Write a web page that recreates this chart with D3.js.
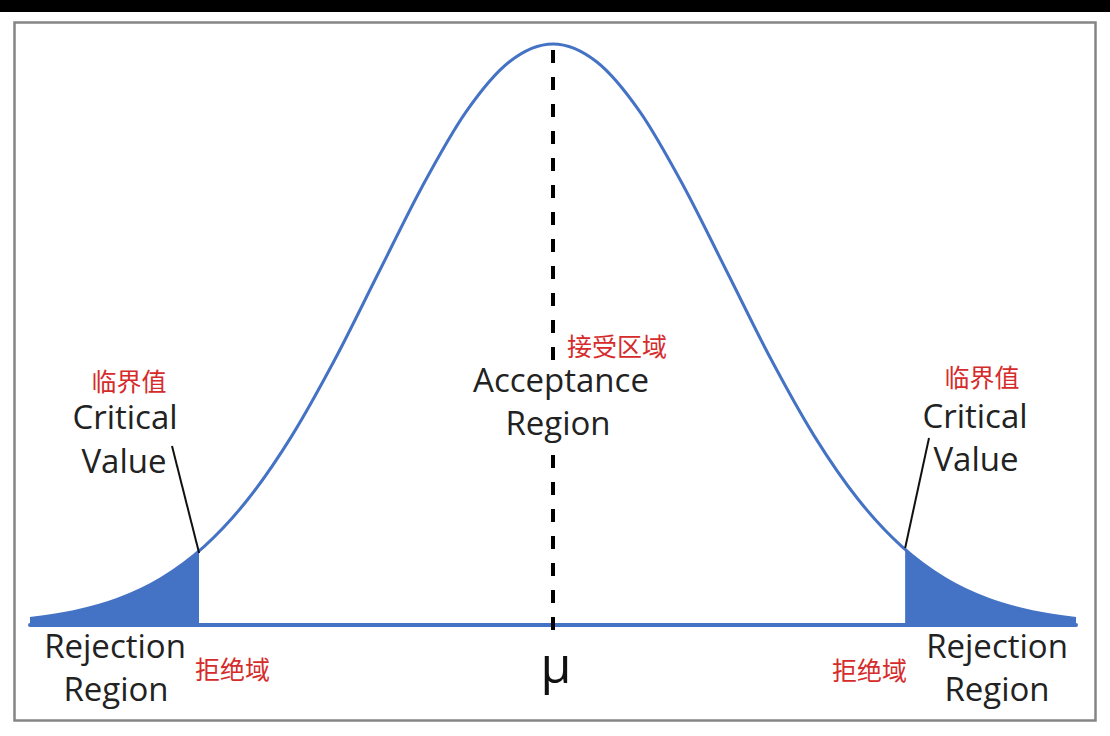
<!DOCTYPE html>
<html>
<head>
<meta charset="utf-8">
<script src="https://cdn.jsdelivr.net/npm/d3@7/dist/d3.min.js"></script>
<style>
  html, body { margin: 0; padding: 0; background: #fff; }
  svg { display: block; }
</style>
</head>
<body>
<svg id="chart" width="1110" height="736"></svg>
<script>
// ---- data ----
const zValues = [-3.0, -2.75, -2.5, -2.25, -2.0, -1.75, -1.5, -1.25, -1.0, -0.75, -0.5, -0.25, 0,
                 0.25, 0.5, 0.75, 1.0, 1.25, 1.5, 1.75, 2.0, 2.25, 2.5, 2.75, 3.0];
const densityValues = [0.0044, 0.0091, 0.0175, 0.0317, 0.0540, 0.0863, 0.1295, 0.1826, 0.2420, 0.3011, 0.3521, 0.3867, 0.3989,
                       0.3867, 0.3521, 0.3011, 0.2420, 0.1826, 0.1295, 0.0863, 0.0540, 0.0317, 0.0175, 0.0091, 0.0044];
const criticalZ = [-2.03, 2.02];
const meanLabel = "μ";
const acceptanceLabel = ["Acceptance", "Region"];
const acceptanceCn = "接受区域";
const criticalLabel = ["Critical", "Value"];
const criticalCn = "临界值";
const rejectionLabel = ["Rejection", "Region"];
const rejectionCn = "拒绝域";

// ---- layout ----
const W = 1110, H = 736;
const svg = d3.select("#chart");
const blue = "#4472c4";
const red = "#d62b2b";
const ink = "#222";
const enFont = "'Open Sans', 'Noto Sans', sans-serif";
const cnFont = "'Noto Sans CJK SC', sans-serif";
const enSize = 33;

svg.append("rect").attr("x", 0).attr("y", 0).attr("width", W).attr("height", H).attr("fill", "#fff");
svg.append("rect").attr("x", 0).attr("y", 0).attr("width", W).attr("height", 12).attr("fill", "#000");
svg.append("rect").attr("x", 14.5).attr("y", 22.5).attr("width", 1081).attr("height", 698)
  .attr("fill", "#fff").attr("stroke", "#858585").attr("stroke-width", 2.5);

const x = d3.scaleLinear().domain([-3, 3]).range([30, 1076]);
const y = d3.scaleLinear().domain([0, 0.3989]).range([625, 44]);

const pts = zValues.map((z, i) => ({ z, d: densityValues[i] }));

// tails (clipped areas)
const defs = svg.append("defs");
defs.append("clipPath").attr("id", "clipL").append("rect")
  .attr("x", 0).attr("y", 0).attr("width", x(criticalZ[0])).attr("height", H);
defs.append("clipPath").attr("id", "clipR").append("rect")
  .attr("x", x(criticalZ[1])).attr("y", 0).attr("width", W - x(criticalZ[1])).attr("height", H);

const area = d3.area().x(p => x(p.z)).y0(y(0)).y1(p => y(p.d)).curve(d3.curveMonotoneX);
const line = d3.line().x(p => x(p.z)).y(p => y(p.d)).curve(d3.curveMonotoneX);

["clipL", "clipR"].forEach(id => {
  svg.append("path").datum(pts).attr("d", area).attr("fill", blue).attr("clip-path", `url(#${id})`);
});

// baseline
svg.append("line").attr("x1", x(-3)).attr("x2", x(3)).attr("y1", y(0)).attr("y2", y(0))
  .attr("stroke", blue).attr("stroke-width", 4).attr("stroke-linecap", "round");

// curve
svg.append("path").datum(pts).attr("d", line).attr("fill", "none")
  .attr("stroke", blue).attr("stroke-width", 3);

// mean dashed line
svg.append("line").attr("x1", x(0)).attr("x2", x(0)).attr("y1", 50).attr("y2", 640)
  .attr("stroke", "#000").attr("stroke-width", 4).attr("stroke-dasharray", "13,14");

// white box behind acceptance text
svg.append("rect").attr("x", 465).attr("y", 362).attr("width", 190).attr("height", 88).attr("fill", "#fff");

function txt(str, xx, yy, opts) {
  return svg.append("text").attr("x", xx).attr("y", yy)
    .attr("text-anchor", opts.anchor || "middle")
    .attr("font-family", opts.family || enFont)
    .attr("font-size", opts.size || enSize)
    .attr("fill", opts.fill || ink)
    .attr("dominant-baseline", opts.baseline || "alphabetic")
    .text(str);
}

// acceptance
txt(acceptanceCn, 567, 345, { anchor: "start", family: cnFont, size: 25, fill: red, baseline: "central" });
txt(acceptanceLabel[0], 561, 392, {});
txt(acceptanceLabel[1], 558, 435, {});

// critical left
txt(criticalCn, 129, 380, { family: cnFont, size: 25, fill: red, baseline: "central" });
txt(criticalLabel[0], 125, 429, {});
txt(criticalLabel[1], 124, 473, {});
// critical right
txt(criticalCn, 982, 376, { family: cnFont, size: 25, fill: red, baseline: "central" });
txt(criticalLabel[0], 975, 428, {});
txt(criticalLabel[1], 976, 471, {});

// leader lines
svg.append("line").attr("x1", 172).attr("y1", 446).attr("x2", x(criticalZ[0])).attr("y2", 553)
  .attr("stroke", "#111").attr("stroke-width", 2);
svg.append("line").attr("x1", 929).attr("y1", 438).attr("x2", x(criticalZ[1])).attr("y2", 548)
  .attr("stroke", "#111").attr("stroke-width", 2);

// rejection left
txt(rejectionLabel[0], 115, 658, {});
txt(rejectionLabel[1], 116, 701, {});
txt(rejectionCn, 195, 668, { anchor: "start", family: cnFont, size: 25, fill: red, baseline: "central" });
// rejection right
txt(rejectionLabel[0], 997, 658, {});
txt(rejectionLabel[1], 997, 701, {});
txt(rejectionCn, 832, 669, { anchor: "start", family: cnFont, size: 25, fill: red, baseline: "central" });

// mu
txt(meanLabel, x(0) + 3, 683, { size: 50, fill: "#111" });
</script>
</body>
</html>
